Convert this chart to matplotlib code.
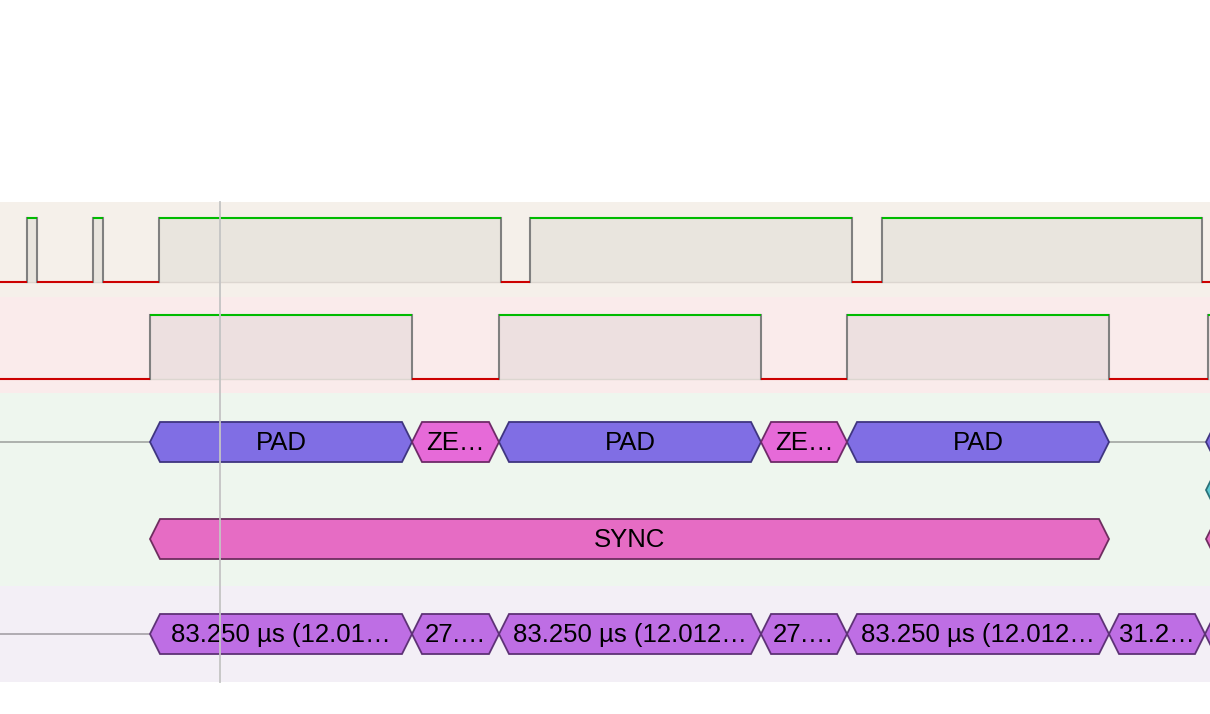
import matplotlib.pyplot as plt
from matplotlib.patches import Polygon

# horizontal axis = sample position (screen units of the trace view)
VIEW_END = 1210

# row bands: (top, bottom, colour)
band_tops = [202, 297, 393, 586]
band_bottoms = [297, 393, 586, 682]
band_colours = ["#f5f0ea", "#faebeb", "#eef6ee", "#f3eff6"]

# logic channels: initial level and edge positions
ch1_start_level = 0
ch1_edges = [27, 37, 93, 103, 159, 501, 530, 852, 882, 1202]
ch2_start_level = 0
ch2_edges = [150, 412, 499, 761, 847, 1109, 1208]

# decoder rows: (start, end, label)
pad_starts = [150, 499, 847, 1206]
pad_ends = [412, 761, 1109, 1300]
pad_labels = ["PAD", "PAD", "PAD", ""]
zero_starts = [412, 761]
zero_ends = [499, 847]
zero_labels = ["ZE…", "ZE…"]
other_starts = [1206]
other_ends = [1300]
sync_starts = [150, 1206]
sync_ends = [1109, 1300]
sync_labels = ["SYNC", ""]
timing_starts = [150, 412, 499, 761, 847, 1109, 1205]
timing_ends = [412, 499, 761, 847, 1109, 1205, 1300]
timing_labels = ["83.250 µs (12.01…", "27.…", "83.250 µs (12.012…",
                 "27.…", "83.250 µs (12.012…", "31.2…", ""]

cursor_x = 220

plt.rcParams['font.family'] = ['Liberation Sans', 'DejaVu Sans']

fig = plt.figure(figsize=(12.1, 7.14), dpi=100)
ax = fig.add_axes([0, 0, 1, 1])
ax.set_xlim(0, VIEW_END)
ax.set_ylim(714, 0)
ax.axis("off")

for top, bot, col in zip(band_tops, band_bottoms, band_colours):
    ax.axhspan(top, bot, color=col, lw=0, zorder=0)


def draw_logic(edges, level, y_hi, y_lo, fill_col):
    xs = [0] + edges + [VIEW_END]
    for i in range(len(xs) - 1):
        a, b = xs[i], min(xs[i + 1], VIEW_END)
        if level:
            ax.fill_between([a, b], y_hi, y_lo, color=fill_col, lw=0, zorder=1)
            ax.plot([a, b], [y_lo, y_lo], color="#dcd6d0", lw=1, zorder=1)
            ax.plot([a, b], [y_hi, y_hi], color="#00bb00", lw=1.5,
                    solid_capstyle="butt", zorder=3)
        else:
            ax.plot([a, b], [y_lo, y_lo], color="#cc0000", lw=1.5,
                    solid_capstyle="butt", zorder=3)
        if i < len(xs) - 2:
            ax.plot([b, b], [y_hi, y_lo], color="#808080", lw=1.5, zorder=2)
        level = 1 - level


draw_logic(ch1_edges, ch1_start_level, 218, 282, "#e9e5de")
draw_logic(ch2_edges, ch2_start_level, 315, 379, "#ede0e0")


def hexagon(x0, x1, yc, face, edge, label="", h=20, tip=10):
    t = min(tip, (x1 - x0) / 2)
    pts = [(x0, yc), (x0 + t, yc - h), (x1 - t, yc - h),
           (x1, yc), (x1 - t, yc + h), (x0 + t, yc + h)]
    ax.add_patch(Polygon(pts, closed=True, facecolor=face, edgecolor=edge,
                         lw=1.3, zorder=4))
    if label:
        ax.text((x0 + x1) / 2, yc + 1, label, ha="center", va="center",
                fontsize=18.5, color="black", zorder=5)


# row 1: bytes
ax.plot([0, pad_starts[0]], [442, 442], color="#a8aba8", lw=1.3, zorder=2)
ax.plot([pad_ends[2], pad_starts[3]], [442, 442], color="#a8aba8", lw=1.3, zorder=2)
for s, e, l in zip(pad_starts, pad_ends, pad_labels):
    hexagon(s, e, 442, "#806ee4", "#3f3580", l)
for s, e, l in zip(zero_starts, zero_ends, zero_labels):
    hexagon(s, e, 442, "#e66ad8", "#6e2a68", l)
# row 2
for s, e in zip(other_starts, other_ends):
    hexagon(s, e, 490, "#5cc8d2", "#2a7078")
# row 3: sync
for s, e, l in zip(sync_starts, sync_ends, sync_labels):
    hexagon(s, e, 539, "#e66cc4", "#6e2d5f", l)
# row 4: timing
ax.plot([0, timing_starts[0]], [634, 634], color="#aaa6ac", lw=1.3, zorder=2)
for s, e, l in zip(timing_starts, timing_ends, timing_labels):
    hexagon(s, e, 634, "#be6ee4", "#5e3276", l)

ax.plot([cursor_x, cursor_x], [band_tops[0], band_bottoms[-1]],
        color="#c4c4c4", lw=1.3, zorder=6)

fig.savefig("out.png", dpi=100)
